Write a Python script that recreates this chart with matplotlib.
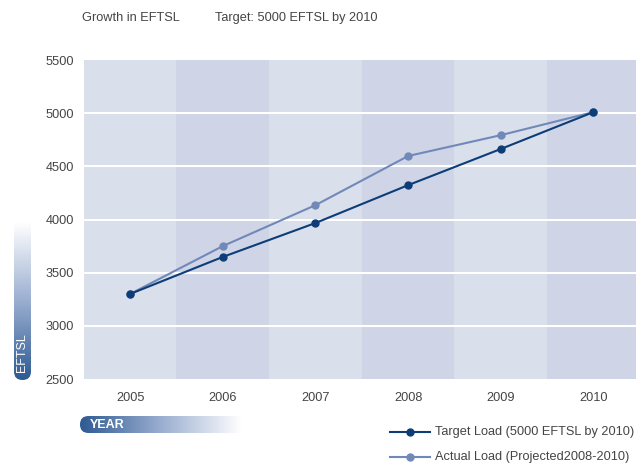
import numpy as np
import matplotlib
matplotlib.use("Agg")
import matplotlib.pyplot as plt
from matplotlib.patches import FancyBboxPatch
from matplotlib.lines import Line2D
from matplotlib.colors import LinearSegmentedColormap

plt.rcParams['font.family'] = ['Liberation Sans', 'DejaVu Sans']

years = [2005, 2006, 2007, 2008, 2009, 2010]
target_load = [3300, 3648, 3967, 4323, 4663, 5010]
actual_load = [3300, 3750, 4135, 4597, 4793, 5010]
y_ticks = [2500, 3000, 3500, 4000, 4500, 5000, 5500]
series_names = ['Target Load (5000 EFTSL by 2010)', 'Actual Load (Projected2008-2010)']

W, H = 636, 465
fig = plt.figure(figsize=(W/100, H/100), dpi=100)

def fx(x): return x / W
def fy(y): return 1 - y / H

TXT = '#444444'
FS = 9.2
c_target, c_actual = '#0d3d78', '#7189b9'

ax = fig.add_axes([fx(82), fy(379), fx(636) - fx(82), fy(60) - fy(379)])
ax.set_xlim(2004.48, 2010.46)
ax.set_ylim(2500, 5500)
light, dark = '#d9dfeb', '#cfd5e6'
for i, yr in enumerate(years):
    ax.axvspan(yr - 0.5, yr + 0.5, color=light if i % 2 == 0 else dark, lw=0, zorder=0)
for t in y_ticks[1:-1]:
    ax.axhline(t, color='white', lw=1.5, zorder=1)
for s in ax.spines.values():
    s.set_visible(False)
ax.set_yticks(y_ticks)
ax.set_xticks(years)
ax.tick_params(length=0, labelsize=FS, colors=TXT)
ax.tick_params(axis='y', pad=6)
ax.tick_params(axis='x', pad=9)

ax.plot(years, target_load, color=c_target, lw=1.5, marker='o', ms=5, zorder=3)
ax.plot(years, actual_load, color=c_actual, lw=1.5, marker='o', ms=5, zorder=2)

# overlay axes in pixel coordinates
ov = fig.add_axes([0, 0, 1, 1], zorder=5)
ov.set_xlim(0, W); ov.set_ylim(H, 0)
ov.set_axis_off()
ov.patch.set_alpha(0)

ov.text(82, 18, 'Growth in EFTSL', fontsize=FS, color=TXT, va='center')
ov.text(215, 18, 'Target: 5000 EFTSL by 2010', fontsize=FS, color=TXT, va='center')

# EFTSL vertical gradient bar (white top -> dark blue bottom, rounded bottom)
cm = LinearSegmentedColormap.from_list('g', ['#ffffff', '#9aaed0', '#2d5a92'])
grad = np.linspace(0, 1, 256).reshape(-1, 1)
im = ov.imshow(grad, aspect='auto', cmap=cm, extent=[14, 31, 380, 222], origin='upper')
clip = FancyBboxPatch((14, 200), 17, 180, boxstyle='round,pad=0,rounding_size=8.5',
                      transform=ov.transData, fc='none', ec='none')
ov.add_patch(clip)
im.set_clip_path(clip)
ov.text(22.5, 372, 'EFTSL', rotation=90, color='white', fontsize=9, ha='center', va='bottom')

# YEAR horizontal gradient bar (dark blue left -> white right, rounded left)
cm2 = LinearSegmentedColormap.from_list('g2', ['#2d5a92', '#9aaed0', '#ffffff'])
grad2 = np.linspace(0, 1, 256).reshape(1, -1)
im2 = ov.imshow(grad2, aspect='auto', cmap=cm2, extent=[80, 242, 433, 416])
clip2 = FancyBboxPatch((80, 416), 190, 17, boxstyle='round,pad=0,rounding_size=8.5',
                       transform=ov.transData, fc='none', ec='none')
ov.add_patch(clip2)
im2.set_clip_path(clip2)
ov.text(90, 425, 'YEAR', color='white', fontsize=9, ha='left', va='center', fontweight='bold')
ov.set_xlim(0, W); ov.set_ylim(H, 0)

# legend
for yy, col, name in [(432, c_target, series_names[0]), (457, c_actual, series_names[1])]:
    ov.add_line(Line2D([390, 430], [yy, yy], color=col, lw=1.5))
    ov.add_line(Line2D([410], [yy], color=col, marker='o', ms=5))
    ov.text(435, yy, name, fontsize=FS, color=TXT, va='center', ha='left')

fig.savefig('out.png', dpi=100)
